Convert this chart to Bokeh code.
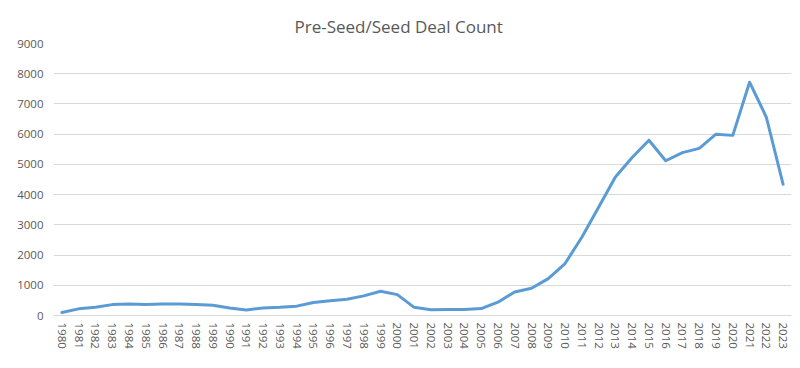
from bokeh.plotting import figure
from bokeh.models import Range1d, FactorRange, FixedTicker, ColumnDataSource
from bokeh.embed import file_html
from bokeh.resources import INLINE

years = [str(y) for y in range(1980, 2024)]
deal_count = [100, 220, 270, 360, 380, 360, 380, 380, 360, 340,
              250, 180, 250, 270, 310, 430, 490, 540, 650, 800,
              690, 270, 190, 200, 200, 230, 440, 780, 900, 1220,
              1720, 2590, 3580, 4580, 5230, 5800, 5120, 5390, 5530, 6000,
              5960, 7720, 6560, 4340]
y_ticks = [0, 1000, 2000, 3000, 4000, 5000, 6000, 7000, 8000, 9000]
title_text = "Pre-Seed/Seed  Deal Count"

src = ColumnDataSource(dict(year=years, count=deal_count))

p = figure(width=800, height=368, output_backend="svg", toolbar_location=None,
           x_range=FactorRange(*years, range_padding=0), y_range=Range1d(0, 9000),
           min_border_left=53, min_border_right=9, min_border_top=43, min_border_bottom=53,
           title=title_text)

p.line(x="year", y="count", source=src, line_color="#5B9BD5", line_width=3,
       line_join="round", line_cap="round")

p.title.align = "left"
p.title.offset = 241
p.title.text_font = "Open Sans"
p.title.text_font_size = "17px"
p.title.text_font_style = "normal"
p.title.text_color = "#595959"
p.title.standoff = 12

p.outline_line_color = None
p.border_fill_color = "white"
p.xgrid.grid_line_color = None
p.ygrid.grid_line_color = "#d9d9d9"
p.ygrid.grid_line_width = 1

p.yaxis.ticker = FixedTicker(ticks=y_ticks)
p.yaxis.axis_line_color = None
p.yaxis.major_tick_line_color = None
p.yaxis.minor_tick_line_color = None
p.yaxis.major_tick_out = 0
p.yaxis.major_label_standoff = 10
p.yaxis.major_label_text_font = "Open Sans"
p.yaxis.major_label_text_font_size = "11.5px"
p.yaxis.major_label_text_color = "#595959"

p.xaxis.axis_line_color = "#d9d9d9"
p.xaxis.major_tick_line_color = None
p.xaxis.minor_tick_line_color = None
p.xaxis.major_tick_out = 0
p.xaxis.major_label_standoff = 7
p.xaxis.major_label_orientation = "vertical"
p.xaxis.major_label_text_font = "Open Sans"
p.xaxis.major_label_text_font_size = "11.5px"
p.xaxis.major_label_text_color = "#595959"

open("out.html", "w").write(file_html(p, INLINE))
